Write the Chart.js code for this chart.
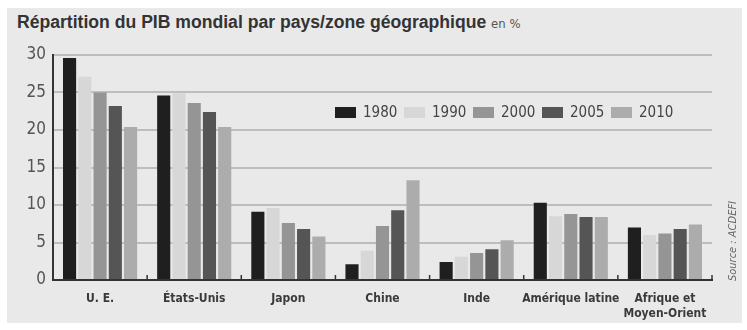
<!DOCTYPE html>
<html>
<head>
<meta charset="utf-8">
<script src="https://cdn.jsdelivr.net/npm/chart.js@4.4.0/dist/chart.umd.min.js"></script>
<style>
  body { margin: 0; background: #fff; }
  #box { position: absolute; left: 7px; top: 8px; width: 735px; height: 315px; background: #e9e9e9; }
  #title { position: absolute; left: 10px; top: 4px; font: bold 17.6px "Liberation Sans", Arial, sans-serif; color: #333; white-space: nowrap; }
  #title span { font: 13px "Liberation Sans Narrow", "DejaVu Sans Condensed", sans-serif; color: #555; font-weight: normal; }
  #wrap { position: absolute; left: 0; top: 27px; width: 735px; height: 288px; }
</style>
</head>
<body>
<div id="box">
  <div id="title">Répartition du PIB mondial par pays/zone géographique <span>en %</span></div>
  <div id="wrap"><canvas id="chartCanvas"></canvas></div>
</div>
<script>
const categories = ["U. E.", "États-Unis", "Japon", "Chine", "Inde", "Amérique latine", ["Afrique et", "Moyen-Orient"]];
const years = ["1980", "1990", "2000", "2005", "2010"];
const v1980 = [29.6, 24.6, 9.1, 2.1, 2.4, 10.3, 7.0];
const v1990 = [27.1, 24.9, 9.6, 3.9, 3.1, 8.5, 6.0];
const v2000 = [25.0, 23.6, 7.6, 7.2, 3.6, 8.8, 6.2];
const v2005 = [23.2, 22.4, 6.8, 9.3, 4.1, 8.4, 6.8];
const v2010 = [20.4, 20.4, 5.8, 13.3, 5.3, 8.4, 7.4];
const yTicks = [0, 5, 10, 15, 20, 25, 30];
const source = "Source : ACDEFI";

const colors = ["#1f1f1f", "#d7d7d7", "#959595", "#555555", "#acacac"];
const series = [v1980, v1990, v2000, v2005, v2010];
const narrow = '"Liberation Sans Narrow", "DejaVu Sans Condensed", sans-serif';

// légende dans la zone du graphique
const legendPlugin = {
    id: "insideLegend",
    afterDatasetsDraw(chart) {
        const ctx = chart.ctx;
        ctx.save();
        ctx.font = "15px " + narrow;
        ctx.textBaseline = "middle";
        let x = 328;
        const y = 77;
        chart.data.datasets.forEach(ds => {
            ctx.fillStyle = ds.backgroundColor;
            ctx.fillRect(x, y - 5, 21, 11);
            ctx.fillStyle = "#444";
            ctx.fillText(ds.label, x + 28, y + 1);
            x += 69;
        });
        ctx.restore();
    }
};

// petites graduations de l'axe x + source
const extrasPlugin = {
    id: "extras",
    afterDraw(chart) {
        const ctx = chart.ctx;
        const xs = chart.scales.x;
        const bottom = chart.chartArea.bottom;
        const half = (xs.getPixelForValue(1) - xs.getPixelForValue(0)) / 2;
        ctx.save();
        ctx.strokeStyle = "#333";
        ctx.lineWidth = 1.5;
        for (let i = 1; i <= categories.length; i++) {
            const px = xs.getPixelForValue(i) - half;
            ctx.beginPath();
            ctx.moveTo(px, bottom);
            ctx.lineTo(px, bottom - 5);
            ctx.stroke();
        }
        ctx.translate(726, 206);
        ctx.rotate(-Math.PI / 2);
        ctx.font = "italic 11px " + narrow;
        ctx.fillStyle = "#666";
        ctx.textAlign = "center";
        ctx.textBaseline = "middle";
        ctx.fillText(source, 0, 0);
        ctx.restore();
    }
};

const ctx = document.getElementById("chartCanvas").getContext("2d");
const chart = new Chart(ctx, {
    type: "bar",
    data: {
        labels: categories,
        datasets: years.map((y, i) => ({
            label: y,
            data: series[i],
            backgroundColor: colors[i],
            borderWidth: 0,
            barPercentage: 0.86,
            categoryPercentage: 0.81
        }))
    },
    options: {
        responsive: true,
        maintainAspectRatio: false,
        animation: false,
        layout: { padding: { top: 20, right: 30, left: 0, bottom: 0 } },
        plugins: {
            legend: { display: false },
            tooltip: { enabled: false }
        },
        scales: {
            x: {
                grid: { display: false },
                border: { color: "#333", width: 2 },
                ticks: {
                    color: "#3a3a3a",
                    padding: 3,
                    maxRotation: 0,
                    autoSkip: false,
                    font: { family: narrow, size: 12, weight: "bold", lineHeight: 1.25 }
                },
                afterFit(scale) { scale.height = 43; }
            },
            y: {
                min: 0,
                max: 30,
                afterBuildTicks(scale) { scale.ticks = yTicks.map(v => ({ value: v })); },
                grid: { color: "#bdbdbd", lineWidth: 2, drawTicks: false },
                border: { color: "#333", width: 2 },
                ticks: {
                    color: "#555",
                    padding: 7,
                    font: { family: narrow, size: 17 }
                },
                afterFit(scale) { scale.width = 46; }
            }
        }
    },
    plugins: [legendPlugin, extrasPlugin]
});
</script>
</body>
</html>
